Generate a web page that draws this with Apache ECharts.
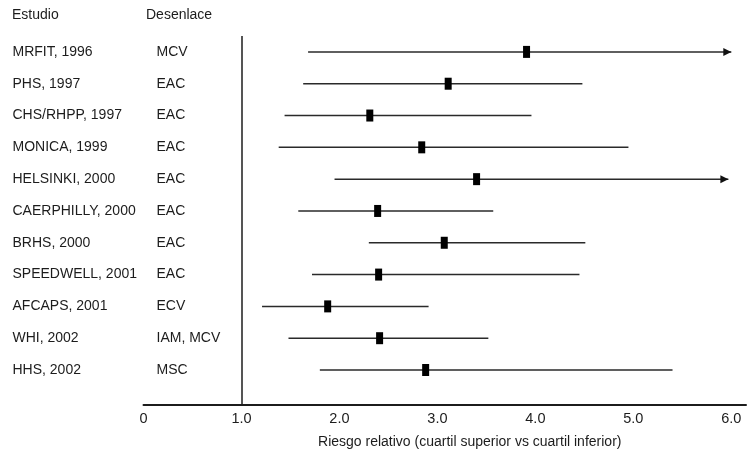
<!DOCTYPE html>
<html>
<head>
<meta charset="utf-8">
<script src="https://cdn.jsdelivr.net/npm/echarts@6/dist/echarts.min.js"></script>
<style>
  html, body { margin: 0; padding: 0; background: #fff; }
  #main { width: 747px; height: 454px; }
</style>
</head>
<body>
<div id="main"></div>
<script>
// datos
var studies = ['MRFIT, 1996', 'PHS, 1997', 'CHS/RHPP, 1997', 'MONICA, 1999', 'HELSINKI, 2000',
  'CAERPHILLY, 2000', 'BRHS, 2000', 'SPEEDWELL, 2001', 'AFCAPS, 2001', 'WHI, 2002', 'HHS, 2002'];
var outcomes = ['MCV', 'EAC', 'EAC', 'EAC', 'EAC', 'EAC', 'EAC', 'EAC', 'ECV', 'IAM, MCV', 'MSC'];
var rr    = [3.91, 3.11, 2.31, 2.84, 3.40, 2.39, 3.07, 2.40, 1.88, 2.41, 2.88];
var lower = [1.68, 1.63, 1.44, 1.38, 1.95, 1.58, 2.30, 1.72, 1.21, 1.48, 1.80];
var upper = [6.00, 4.48, 3.96, 4.95, 5.97, 3.57, 4.51, 4.45, 2.91, 3.52, 5.40];
var openEnded = [1, 0, 0, 0, 1, 0, 0, 0, 0, 0, 0];
var xTicks = [0, 1, 2, 3, 4, 5, 6];

var ink = '#1c1c1c';
var font = 'Liberation Sans';

var chart = echarts.init(document.getElementById('main'));

var ciData = studies.map(function (s, i) { return [i, lower[i], upper[i], openEnded[i]]; });
var pointData = studies.map(function (s, i) { return [rr[i], i]; });

chart.setOption({
  animation: false,
  backgroundColor: '#fff',
  textStyle: { fontFamily: font },
  graphic: [
    { type: 'text', left: 12, top: 8, style: { text: 'Estudio', font: '14px ' + font, fill: ink } },
    { type: 'text', left: 146, top: 8, style: { text: 'Desenlace', font: '14px ' + font, fill: ink } }
  ],
  grid: { left: 143.5, right: 1, top: 36, bottom: 46 },
  xAxis: {
    type: 'value',
    min: 0, max: 6.15, interval: 1,
    splitLine: { show: false },
    axisTick: { show: false },
    axisLine: { onZero: false, lineStyle: { color: ink, width: 2 } },
    axisLabel: {
      color: ink, fontSize: 14.5, margin: 6,
      customValues: xTicks,
      formatter: function (v) { return v === 0 ? '0' : v.toFixed(1); }
    },
    name: 'Riesgo relativo (cuartil superior vs cuartil inferior)',
    nameLocation: 'middle', nameGap: 30,
    nameTextStyle: { color: ink, fontSize: 14, padding: [0, 0, 0, 50] }
  },
  yAxis: {
    type: 'value',
    min: -0.5, max: 11.1, inverse: true,
    splitLine: { show: false },
    axisLine: { show: false },
    axisTick: { show: false },
    axisLabel: {
      align: 'left', margin: 131, color: ink, fontSize: 14,
      customValues: studies.map(function (s, i) { return i; }),
      formatter: function (v) { return '{n|' + studies[v] + '}{o|' + outcomes[v] + '}'; },
      rich: {
        n: { width: 144, fontSize: 14, color: ink, align: 'left' },
        o: { fontSize: 14, color: ink, align: 'left' }
      }
    }
  },
  series: [
    {
      type: 'custom',
      data: ciData,
      renderItem: function (params, api) {
        var row = api.value(0);
        var a = api.coord([api.value(1), row]);
        var b = api.coord([api.value(2), row]);
        var children = [{
          type: 'line',
          shape: { x1: a[0], y1: a[1], x2: b[0], y2: b[1] },
          style: { stroke: '#2a2a2a', lineWidth: 1.5 }
        }];
        if (api.value(3)) {
          children.push({
            type: 'polygon',
            shape: { points: [[b[0], b[1]], [b[0] - 8, b[1] - 4], [b[0] - 8, b[1] + 4]] },
            style: { fill: '#111' }
          });
        }
        return { type: 'group', children: children };
      },
      z: 2
    },
    {
      type: 'scatter',
      data: pointData,
      symbol: 'rect',
      symbolSize: [7, 12],
      itemStyle: { color: '#000', opacity: 1 },
      z: 3,
      markLine: {
        silent: true,
        symbol: 'none',
        label: { show: false },
        lineStyle: { color: ink, width: 1.5, type: 'solid' },
        data: [{ xAxis: 1 }]
      }
    }
  ]
});
</script>
</body>
</html>
